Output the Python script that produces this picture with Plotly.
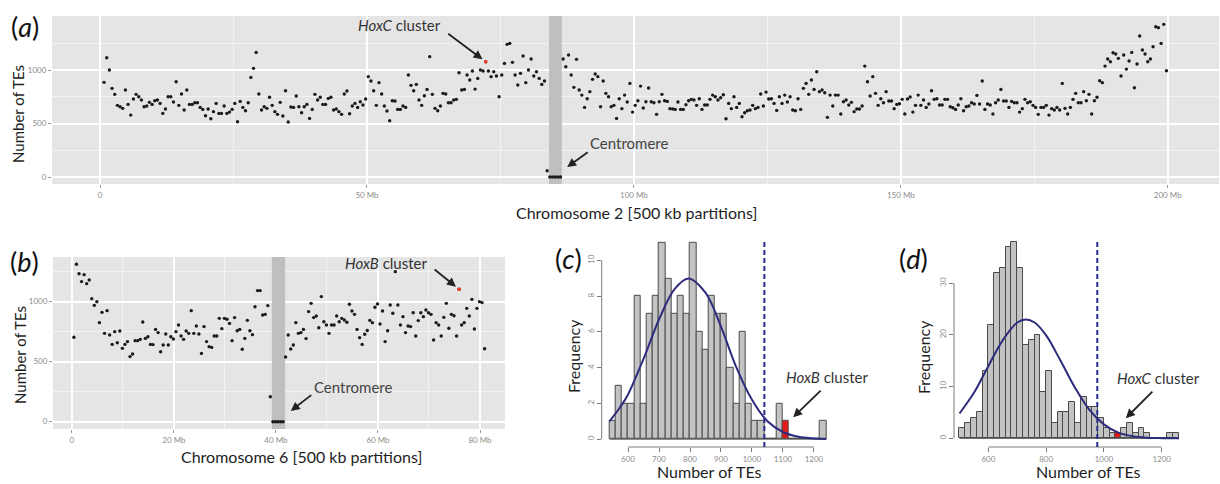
import plotly.graph_objects as go

W, H = 1220, 484


def px(x):
    return x / W


def py(y):
    return 1 - y / H


# ---------------- data ----------------
# Chromosome 2, 500 kb partitions (number of TEs per partition)
chr2_start_mb = 0.75
partition_mb = 0.5
chr2_values = [
    885, 1115, 1000, 829, 773, 670, 657, 642, 813, 679,
    579, 729, 773, 751, 720, 657, 664, 698, 679, 713,
    720, 688, 595, 636, 751, 751, 701, 891, 670, 776,
    626, 813, 679, 679, 695, 695, 651, 632, 573, 636,
    545, 611, 688, 595, 595, 664, 595, 607, 632, 688,
    517, 707, 651, 620, 695, 931, 1016, 1165, 776, 626,
    657, 642, 745, 670, 611, 586, 698, 570, 807, 514,
    654, 651, 757, 657, 601, 657, 679, 548, 632, 773,
    720, 745, 679, 679, 735, 745, 626, 636, 611, 586,
    776, 804, 592, 664, 688, 651, 704, 673, 729, 938,
    897, 807, 670, 882, 776, 664, 617, 526, 713, 710,
    632, 632, 664, 651, 953, 857, 807, 866,
    720, 670, 760, 819, 1125, 773, 642, 620, 664, 782,
    776, 695, 695, 720, 726, 975, 813, 819, 953, 907,
    991, 822, 922, 1000, 991, 1078, 991, 938, 984, 944,
    751, 953, 1062, 1240, 1249, 1072, 953, 860, 969, 1131,
    882, 1000, 1103, 944, 984, 922, 866, 897,
    59, 0, 0, 0, 0, 0,
    1103, 1031, 1140, 953, 838, 1100, 813, 766, 651, 732,
    798, 913, 963, 938, 657, 897, 782, 751, 657, 670,
    548, 732, 639, 766, 701, 875, 607, 670, 713, 850,
    645, 704, 832, 704, 695, 586, 704, 773, 713, 707,
    639, 636, 632, 701, 632, 632, 676, 713, 726, 720,
    670, 732, 632, 673, 673, 726, 766, 751, 720, 741,
    769, 545, 688, 639, 751, 651, 688, 564, 601, 620,
    626, 670, 639, 651, 776, 664, 794, 729, 732, 688,
    623, 751, 688, 766, 701, 751, 626, 620, 732, 632,
    829, 875, 773, 907, 819, 984, 798,
    813, 788, 558, 766, 664, 766, 766, 589, 704, 720,
    673, 698, 611, 636, 636, 664, 1037, 891, 757, 938,
    782, 670, 732, 695, 798, 710, 710, 639, 679, 685,
    726, 589, 729, 748, 607, 670, 766, 670, 720, 651,
    682, 807, 726, 732, 673, 673, 726, 726, 657, 648,
    632, 673, 732, 620, 657, 664, 695, 682, 763, 682,
    897, 632, 682, 673, 589, 695, 720, 819, 710, 710,
    651, 707, 695, 695, 607, 639, 726, 695, 704, 670,
    651, 586, 651, 651, 670, 579, 639, 626, 651, 626,
    875, 642, 589, 651, 726, 782, 695, 695, 798, 713,
    773, 589, 713, 745, 900, 882, 1037, 1103, 1078, 1162,
    1150, 1109, 944, 1140, 1009, 1084, 1165, 835, 1056, 1318,
    1187, 1150, 1078, 1103, 1218, 1405, 1396, 1249, 1427, 994,
]
chr2_hox_index = 143          # HoxC cluster partition
chr2_centromere_mb = [84.1, 86.5]

# Chromosome 6, 500 kb partitions
chr6_start_mb = 0.4
chr6_values = [
    703, 1311, 1233, 1167, 1225, 1150, 1181, 1025, 969, 1000,
    825, 911, 736, 925, 722, 644, 750, 658, 756, 611,
    644, 667, 542, 564, 675, 675, 686, 831, 694, 708,
    644, 642, 769, 742, 583, 639, 731, 639, 708, 689,
    750, 806, 714, 686, 756, 736, 925, 736, 797, 731,
    569, 792, 667, 625, 619, 714, 714, 861, 775, 861,
    853, 819, 675, 867, 758, 769, 603, 694, 844, 758,
    725, 958, 1092, 1092, 889, 894, 967, 208,
    0, 0, 0, 0, 0,
    539, 722, 606, 639, 825, 736, 742, 769, 692, 917,
    986, 867, 881, 783, 1042, 833, 806, 736, 806, 806,
    881, 833, 861, 847, 828, 978, 922, 894, 769, 700,
    644, 728, 760, 844, 825, 953, 981, 814, 922, 667,
    758, 972, 903, 1250, 972, 806, 875, 742, 797, 792,
    908, 714, 842, 908, 875, 931, 908, 894, 681, 825,
    806, 714, 869, 986, 778, 894, 883, 714, 1103, 806,
    825, 944, 881, 1019, 772, 944, 1000, 992, 608,
]
chr6_hox_index = 151          # HoxB cluster partition
chr6_centromere_mb = [39.2, 41.8]

# Histograms (bin width 20 TEs)
bin_width = 20
histc_start = 540
histc_counts = [1, 3, 2, 2, 8, 2, 7, 8, 11, 9, 7, 8, 7, 11, 6, 5, 8, 7, 7, 4,
                2, 6, 2, 1, 1, 0, 0, 2, 1, 0, 0, 0, 0, 0, 1]
histc_hox_bin = 28
histc_threshold = 1040
histc_curve_x = [540, 575, 600, 650, 700, 750, 795, 850, 900, 950, 1000, 1050, 1100, 1150, 1200, 1240]
histc_curve_y = [1.0, 1.8, 2.5, 4.5, 6.7, 8.4, 9.0, 8.2, 6.3, 4.0, 2.2, 1.0, 0.4, 0.13, 0.04, 0.01]

histd_start = 500
histd_counts = [2, 3, 4, 5, 13, 22, 32, 33, 37, 38, 33, 18, 19, 20, 9, 13, 3, 5, 5, 7,
                3, 8, 6, 6, 4, 2, 1, 1, 2, 3, 1, 2, 1, 0, 0, 0, 1, 1]
histd_hox_bin = 27
histd_threshold = 977
histd_curve_x = [500, 550, 600, 650, 700, 730, 760, 800, 850, 900, 950, 1000, 1050, 1100, 1150, 1200, 1260]
histd_curve_y = [4.8, 8.8, 14.0, 19.0, 22.4, 23.0, 22.4, 19.9, 15.0, 9.8, 5.5, 2.7, 1.1, 0.4, 0.12, 0.03, 0.0]

chr2_xticks = [0, 50, 100, 150, 200]
chr2_xticktext = ["0", "50 Mb", "100 Mb", "150 Mb", "200 Mb"]
chr6_xticks = [0, 20, 40, 60, 80]
chr6_xticktext = ["0", "20 Mb", "40 Mb", "60 Mb", "80 Mb"]
te_yticks = [0, 500, 1000]

chr2_yrange = [-65, 1505]
chr6_yrange = [-61, 1372]

# ---------------- styles ----------------
FONT = "Lato"
PANEL_BG = "#e5e5e5"
TICK_FONT = dict(family=FONT, size=8, color="#8c8c8c")
TITLE_COLOR = "#1e1e1e"
POINT_COLOR = "#1a1a1a"
HOX_COLOR = "#ff3a1e"
BAR_FILL = "#c3c3c3"
BAR_LINE = "#4a4a4a"
CURVE_COLOR = "#2e2c7c"
AXIS_GRAY = "#7a7a7a"
BAND_COLOR = "#bfbfbf"

fig = go.Figure()


def positions(start, n):
    return [start + partition_mb * i for i in range(n)]


def add_band(band, yrange, xa, ya):
    fig.add_trace(go.Scatter(x=[band[0], band[1], band[1], band[0], band[0]],
                             y=[yrange[0], yrange[0], yrange[1], yrange[1], yrange[0]],
                             mode="lines", fill="toself", fillcolor=BAND_COLOR,
                             line=dict(width=0, color=BAND_COLOR), xaxis=xa, yaxis=ya,
                             hoverinfo="skip", showlegend=False))


# ---- panel (a)
add_band(chr2_centromere_mb, chr2_yrange, "x", "y")
x2 = positions(chr2_start_mb, len(chr2_values))
fig.add_trace(go.Scatter(x=x2, y=chr2_values, mode="markers", xaxis="x", yaxis="y",
                         marker=dict(size=3.4, color=POINT_COLOR), showlegend=False))
fig.add_trace(go.Scatter(x=[x2[chr2_hox_index]], y=[chr2_values[chr2_hox_index]], mode="markers",
                         xaxis="x", yaxis="y", marker=dict(size=3.4, color=HOX_COLOR), showlegend=False))

# ---- panel (b)
add_band(chr6_centromere_mb, chr6_yrange, "x2", "y2")
x6 = positions(chr6_start_mb, len(chr6_values))
fig.add_trace(go.Scatter(x=x6, y=chr6_values, mode="markers", xaxis="x2", yaxis="y2",
                         marker=dict(size=3.4, color=POINT_COLOR), showlegend=False))
fig.add_trace(go.Scatter(x=[x6[chr6_hox_index]], y=[chr6_values[chr6_hox_index]], mode="markers",
                         xaxis="x2", yaxis="y2", marker=dict(size=3.4, color=HOX_COLOR), showlegend=False))


# ---- histograms
def add_hist(start, counts, hox_bin, cx, cy, xa, ya):
    n = len(counts)
    centers = [start + bin_width * (i + 0.5) for i in range(n)]
    colors = [("#e8191b" if i == hox_bin else BAR_FILL) for i in range(n)]
    fig.add_trace(go.Scatter(x=[start, start + bin_width * n], y=[0, 0], mode="lines",
                             xaxis=xa, yaxis=ya, line=dict(color=BAR_LINE, width=1),
                             showlegend=False))
    fig.add_trace(go.Bar(x=centers, y=counts, width=bin_width, xaxis=xa, yaxis=ya,
                         marker=dict(color=colors, line=dict(color=BAR_LINE, width=1)),
                         showlegend=False))
    fig.add_trace(go.Scatter(x=cx, y=cy, mode="lines", xaxis=xa, yaxis=ya,
                             line=dict(color=CURVE_COLOR, width=2, shape="spline"),
                             showlegend=False))


add_hist(histc_start, histc_counts, histc_hox_bin, histc_curve_x, histc_curve_y, "x3", "y3")
add_hist(histd_start, histd_counts, histd_hox_bin, histd_curve_x, histd_curve_y, "x4", "y4")

# ---------------- axes ----------------
gg_common = dict(showgrid=True, gridcolor="white", gridwidth=1.6, zeroline=False,
                 ticks="outside", ticklen=3, tickcolor="#9a9a9a", tickwidth=1,
                 tickfont=TICK_FONT, showline=False, fixedrange=True)
minor_style = dict(showgrid=True, gridcolor="#f3f3f3", gridwidth=0.8, ticks="")

base_common = dict(showgrid=False, zeroline=False, ticks="outside", ticklen=4,
                   tickcolor=AXIS_GRAY, tickwidth=1, tickfont=TICK_FONT, showline=False,
                   fixedrange=True)

fig.update_layout(
    xaxis=dict(domain=[px(52), px(1219)], anchor="y", range=[-9, 209.6],
               tickmode="array", tickvals=chr2_xticks, ticktext=chr2_xticktext,
               minor=dict(tickvals=[25, 75, 125, 175], **minor_style), **gg_common),
    yaxis=dict(domain=[py(184), py(16)], anchor="x", range=chr2_yrange,
               tickmode="array", tickvals=te_yticks,
               minor=dict(tickvals=[250, 750, 1250], **minor_style), **gg_common),
    xaxis2=dict(domain=[px(53), px(505)], anchor="y2", range=[-3.7, 84.9],
                tickmode="array", tickvals=chr6_xticks, ticktext=chr6_xticktext,
                minor=dict(tickvals=[10, 30, 50, 70], **minor_style), **gg_common),
    yaxis2=dict(domain=[py(429), py(257)], anchor="x2", range=chr6_yrange,
                tickmode="array", tickvals=te_yticks,
                minor=dict(tickvals=[250, 750, 1250], **minor_style), **gg_common),
    xaxis3=dict(domain=[px(601.7), px(835)], anchor="y3", range=[515, 1268],
                tickmode="array", tickvals=[600, 700, 800, 900, 1000, 1100, 1200], **base_common),
    yaxis3=dict(domain=[py(447), py(234.8)], anchor="x3", range=[-0.44, 11.44],
                tickmode="array", tickvals=[0, 2, 4, 6, 8, 10], tickangle=-90, **base_common),
    xaxis4=dict(domain=[px(954), px(1184.8)], anchor="y4", range=[481, 1280],
                tickmode="array", tickvals=[600, 800, 1000, 1200], **base_common),
    yaxis4=dict(domain=[py(447), py(234)], anchor="x4", range=[-1.68, 39.52],
                tickmode="array", tickvals=[0, 10, 20, 30], tickangle=-90, **base_common),
)

shapes = []
# ggplot panel backgrounds
for xr, yr in (("x", "y"), ("x2", "y2")):
    shapes.append(dict(type="rect", xref=f"{xr} domain", yref=f"{yr} domain", x0=0, x1=1, y0=0, y1=1,
                       fillcolor=PANEL_BG, line=dict(width=0), layer="below"))
# base-R style axis lines
for xa, ya, xt, yt in (("x3", "y3", [600, 1200], [0, 10]), ("x4", "y4", [600, 1200], [0, 30])):
    shapes.append(dict(type="line", xref=xa, yref=f"{ya} domain", x0=xt[0], x1=xt[1], y0=0, y1=0,
                       line=dict(color=AXIS_GRAY, width=1)))
    shapes.append(dict(type="line", xref=f"{xa} domain", yref=ya, x0=0, x1=0, y0=yt[0], y1=yt[1],
                       line=dict(color=AXIS_GRAY, width=1)))
# thresholds
for xa, ya, thr in (("x3", "y3", histc_threshold), ("x4", "y4", histd_threshold)):
    shapes.append(dict(type="line", xref=xa, yref=f"{ya} domain", x0=thr, x1=thr, y0=0, y1=0.97,
                       line=dict(color="#2b2b8c", width=2, dash="5px,3px")))
fig.update_layout(shapes=shapes)

# ---------------- annotations ----------------
ann = []


def text(xpix, ypix, s, size=15, color=TITLE_COLOR, angle=0):
    ann.append(dict(x=px(xpix), y=py(ypix), xref="paper", yref="paper", text=s, showarrow=False,
                    xanchor="center", yanchor="middle", textangle=angle,
                    font=dict(family=FONT, size=size, color=color)))


def arrow(xa, ya, xv, yv, axp, ayp, standoff=3):
    ann.append(dict(x=xv, y=yv, xref=xa, yref=ya, text="", showarrow=True, ax=axp, ay=ayp,
                    arrowhead=2, arrowsize=1, arrowwidth=1.8, arrowcolor="#222222", standoff=standoff))


# panel labels
text(25, 26, "(<i>a</i>)", size=27, color="#111111")
text(25, 261, "(<i>b</i>)", size=27, color="#111111")
text(568, 258, "(<i>c</i>)", size=27, color="#111111")
text(913, 258, "(<i>d</i>)", size=27, color="#111111")

# axis titles
text(636, 212, "Chromosome 2 [500 kb partitions]", size=16)
text(18, 114, "Number of TEs", size=15, angle=-90)
text(301, 456, "Chromosome 6 [500 kb partitions]", size=16)
text(20, 355, "Number of TEs", size=15, angle=-90)
text(709, 471, "Number of TEs", size=16)
text(573, 356, "Frequency", size=16, angle=-90)
text(1088, 471, "Number of TEs", size=16)
text(923, 357, "Frequency", size=16, angle=-90)

# callouts
text(399, 25, "<i>HoxC</i> cluster", size=15, color="#333333")
arrow("x", "y", x2[chr2_hox_index], chr2_values[chr2_hox_index], -39, -29, standoff=4)
text(629, 143, "Centromere", size=15, color="#444444")
arrow("x", "y", 87.5, 93, 22, -16, standoff=0)

text(386, 263, "<i>HoxB</i> cluster", size=15, color="#333333")
arrow("x2", "y2", x6[chr6_hox_index], chr6_values[chr6_hox_index], -26, -21, standoff=4)
text(353, 387, "Centromere", size=15, color="#444444")
arrow("x2", "y2", 42.9, 89, 22, -17, standoff=0)

text(827, 377, "<i>HoxB</i> cluster", size=15, color="#333333")
arrow("x3", "y3", 1133, 1.23, 29, -28, standoff=0)
text(1158, 378, "<i>HoxC</i> cluster", size=15, color="#333333")
arrow("x4", "y4", 1076, 3.9, 28, -28, standoff=0)

fig.update_layout(annotations=ann)

fig.update_layout(
    width=W, height=H, autosize=False,
    margin=dict(l=0, r=0, t=0, b=0),
    paper_bgcolor="white", plot_bgcolor="rgba(0,0,0,0)",
    bargap=0, barmode="overlay", showlegend=False,
    font=dict(family=FONT),
)

fig.write_html("out.html")
